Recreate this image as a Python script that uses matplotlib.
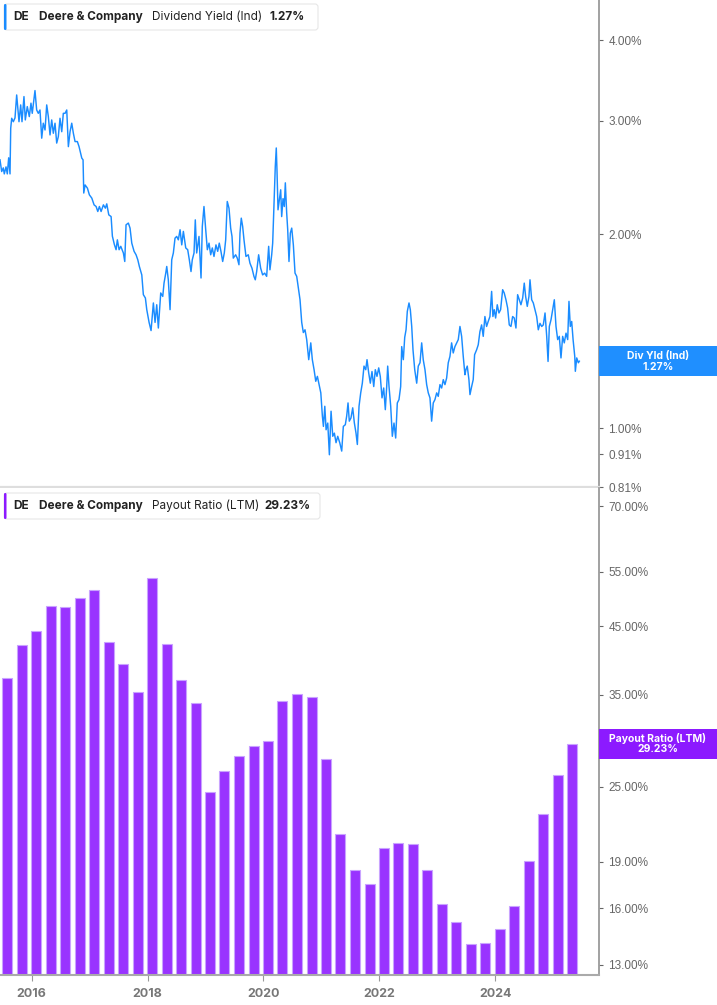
import numpy as np
import pandas as pd
import matplotlib
matplotlib.use("Agg")
import matplotlib.pyplot as plt
import matplotlib.dates as mdates
from matplotlib.patches import Rectangle, FancyBboxPatch
from matplotlib.transforms import IdentityTransform
from matplotlib.ticker import NullLocator
from datetime import datetime

# Dividend yield (Ind), % (decimal year, value)
yield_years = [
    2015.453, 2015.482, 2015.510, 2015.527, 2015.557, 2015.579, 2015.603, 2015.626, 2015.638, 2015.655,
    2015.683, 2015.712, 2015.741, 2015.758, 2015.781, 2015.810, 2015.833, 2015.867, 2015.890, 2015.924,
    2015.959, 2015.988, 2016.010, 2016.057, 2016.086, 2016.114, 2016.143, 2016.173, 2016.200, 2016.230,
    2016.259, 2016.287, 2016.316, 2016.345, 2016.373, 2016.402, 2016.431, 2016.459, 2016.488, 2016.518,
    2016.545, 2016.575, 2016.604, 2016.632, 2016.661, 2016.690, 2016.718, 2016.747, 2016.787, 2016.816,
    2016.863, 2016.885, 2016.897, 2016.920, 2016.960, 2016.994, 2017.036, 2017.075, 2017.110, 2017.139,
    2017.167, 2017.196, 2017.236, 2017.270, 2017.294, 2017.329, 2017.369, 2017.391, 2017.425, 2017.455,
    2017.477, 2017.507, 2017.536, 2017.581, 2017.605, 2017.627, 2017.667, 2017.696, 2017.726, 2017.766,
    2017.800, 2017.830, 2017.857, 2017.899, 2017.926, 2017.961, 2017.985, 2018.025, 2018.059, 2018.099,
    2018.128, 2018.157, 2018.185, 2018.226, 2018.261, 2018.283, 2018.313, 2018.330, 2018.357, 2018.387,
    2018.416, 2018.444, 2018.473, 2018.502, 2018.530, 2018.560, 2018.589, 2018.617, 2018.658, 2018.692,
    2018.720, 2018.749, 2018.771, 2018.801, 2018.823, 2018.847, 2018.887, 2018.922, 2018.944, 2018.973,
    2019.003, 2019.031, 2019.060, 2019.089, 2019.117, 2019.146, 2019.180, 2019.210, 2019.237, 2019.266,
    2019.296, 2019.324, 2019.348, 2019.375, 2019.405, 2019.434, 2019.457, 2019.479, 2019.520, 2019.548,
    2019.577, 2019.595, 2019.617, 2019.641, 2019.664, 2019.698, 2019.738, 2019.767, 2019.802, 2019.836,
    2019.859, 2019.883, 2019.917, 2019.952, 2019.986, 2020.021, 2020.055, 2020.090, 2020.112, 2020.142,
    2020.159, 2020.181, 2020.204, 2020.221, 2020.233, 2020.251, 2020.273, 2020.297, 2020.314, 2020.337,
    2020.359, 2020.377, 2020.400, 2020.418, 2020.440, 2020.463, 2020.487, 2020.515, 2020.544, 2020.573,
    2020.601, 2020.630, 2020.659, 2020.687, 2020.716, 2020.745, 2020.780, 2020.815, 2020.842, 2020.872,
    2020.901, 2020.929, 2020.958, 2020.988, 2021.015, 2021.033, 2021.057, 2021.079, 2021.108, 2021.136,
    2021.165, 2021.194, 2021.222, 2021.251, 2021.280, 2021.315, 2021.349, 2021.377, 2021.411, 2021.435,
    2021.458, 2021.480, 2021.509, 2021.539, 2021.567, 2021.596, 2021.619, 2021.648, 2021.677, 2021.705,
    2021.734, 2021.764, 2021.786, 2021.815, 2021.843, 2021.872, 2021.902, 2021.929, 2021.958, 2021.988,
    2022.015, 2022.045, 2022.074, 2022.102, 2022.126, 2022.143, 2022.166, 2022.195, 2022.223, 2022.252,
    2022.281, 2022.309, 2022.338, 2022.367, 2022.385, 2022.413, 2022.437, 2022.460, 2022.482, 2022.511,
    2022.534, 2022.558, 2022.580, 2022.610, 2022.644, 2022.671, 2022.701, 2022.730, 2022.757, 2022.787,
    2022.816, 2022.844, 2022.873, 2022.902, 2022.930, 2022.959, 2022.989, 2023.016, 2023.046, 2023.075,
    2023.103, 2023.132, 2023.161, 2023.189, 2023.218, 2023.247, 2023.275, 2023.304, 2023.334, 2023.362,
    2023.391, 2023.420, 2023.448, 2023.477, 2023.494, 2023.517, 2023.546, 2023.564, 2023.593, 2023.620,
    2023.644, 2023.679, 2023.707, 2023.736, 2023.765, 2023.793, 2023.822, 2023.851, 2023.879, 2023.909,
    2023.938, 2023.960, 2023.983, 2024.007, 2024.035, 2024.064, 2024.093, 2024.128, 2024.155, 2024.185,
    2024.214, 2024.242, 2024.271, 2024.300, 2024.328, 2024.357, 2024.386, 2024.414, 2024.443, 2024.473,
    2024.500, 2024.524, 2024.552, 2024.581, 2024.599, 2024.628, 2024.656, 2024.685, 2024.714, 2024.742,
    2024.771, 2024.801, 2024.828, 2024.858, 2024.887, 2024.910, 2024.932, 2024.961, 2024.990, 2025.018,
    2025.047, 2025.076, 2025.104, 2025.133, 2025.162, 2025.190, 2025.220, 2025.249, 2025.271, 2025.294,
    2025.318, 2025.342, 2025.371, 2025.381, 2025.405, 2025.433, 2025.450,
]
yield_vals = [
    2.609, 2.502, 2.535, 2.481, 2.544, 2.481, 2.628, 2.481, 2.921, 3.027,
    2.990, 3.031, 3.290, 3.156, 2.990, 3.175, 2.990, 3.271, 3.009, 3.156,
    3.045, 3.195, 3.081, 3.342, 3.118, 3.081, 3.118, 2.819, 2.974, 2.903,
    3.175, 3.045, 2.852, 3.009, 2.869, 2.974, 2.770, 2.835, 3.027, 2.885,
    3.081, 3.081, 3.118, 2.735, 2.885, 2.974, 2.869, 2.785, 2.785, 2.735,
    2.625, 2.609, 2.317, 2.385, 2.358, 2.302, 2.275, 2.221, 2.208, 2.169,
    2.208, 2.169, 2.221, 2.195, 2.229, 2.143, 2.130, 1.986, 1.928, 1.892,
    1.960, 1.892, 1.915, 1.870, 1.814, 2.068, 2.081, 2.044, 1.937, 1.881,
    1.858, 1.825, 1.782, 1.729, 1.611, 1.592, 1.527, 1.459, 1.417, 1.564,
    1.459, 1.554, 1.430, 1.621, 1.601, 1.679, 1.740, 1.782, 1.699, 1.527,
    1.825, 1.870, 1.972, 1.984, 1.960, 2.032, 1.925, 2.020, 1.904, 1.892,
    1.825, 1.750, 1.825, 1.870, 2.105, 1.870, 1.984, 1.710, 2.056, 2.208,
    2.032, 1.892, 1.937, 1.858, 1.904, 1.847, 1.925, 1.881, 1.937, 1.881,
    1.814, 1.870, 1.960, 2.248, 2.195, 2.044, 1.984, 1.836, 1.858, 1.836,
    1.793, 2.008, 2.118, 2.056, 1.960, 1.847, 1.858, 1.803, 1.771, 1.720,
    1.699, 1.750, 1.858, 1.771, 1.729, 1.740, 1.720, 1.915, 1.761, 1.858,
    1.937, 2.208, 2.548, 2.722, 2.517, 2.182, 2.261, 2.344, 2.130, 2.271,
    2.208, 2.403, 2.160, 2.032, 1.814, 2.008, 2.044, 1.925, 1.740, 1.720,
    1.650, 1.582, 1.459, 1.407, 1.421, 1.372, 1.277, 1.356, 1.277, 1.232,
    1.182, 1.203, 1.168, 1.134, 1.044, 1.006, 1.081, 0.994, 1.018, 0.909,
    1.062, 0.971, 0.982, 0.949, 0.971, 0.949, 0.921, 1.006, 1.012, 1.044,
    1.094, 1.025, 1.037, 1.075, 1.019, 0.982, 0.943, 1.081, 1.134, 1.174,
    1.248, 1.232, 1.277, 1.218, 1.174, 1.224, 1.160, 1.232, 1.203, 1.240,
    1.203, 1.114, 1.154, 1.068, 1.160, 1.248, 1.160, 1.081, 0.971, 1.018,
    0.965, 1.094, 1.107, 1.160, 1.338, 1.277, 1.383, 1.421, 1.518, 1.564,
    1.527, 1.438, 1.323, 1.232, 1.174, 1.248, 1.263, 1.356, 1.277, 1.232,
    1.168, 1.134, 1.114, 1.025, 1.094, 1.107, 1.134, 1.120, 1.168, 1.154,
    1.189, 1.168, 1.196, 1.263, 1.292, 1.356, 1.308, 1.338, 1.356, 1.372,
    1.438, 1.388, 1.292, 1.210, 1.232, 1.248, 1.189, 1.127, 1.160, 1.189,
    1.300, 1.323, 1.347, 1.412, 1.446, 1.388, 1.490, 1.438, 1.464, 1.490,
    1.630, 1.490, 1.527, 1.482, 1.554, 1.509, 1.527, 1.640, 1.621, 1.582,
    1.536, 1.446, 1.438, 1.490, 1.482, 1.430, 1.611, 1.582, 1.554, 1.592,
    1.679, 1.601, 1.545, 1.601, 1.699, 1.582, 1.564, 1.527, 1.490, 1.421,
    1.454, 1.438, 1.446, 1.509, 1.388, 1.269, 1.438, 1.473, 1.527, 1.582,
    1.438, 1.372, 1.388, 1.285, 1.388, 1.356, 1.404, 1.372, 1.573, 1.438,
    1.464, 1.372, 1.292, 1.225, 1.285, 1.263, 1.270,
]

# Payout ratio (LTM), %, one bar per fiscal quarter end (Jul 2015 .. Apr 2025)
quarter_ends = pd.date_range("2015-07-31", periods=40, freq="3ME")
payout_vals = [
    37.28, 42.07, 44.18, 48.53, 48.41, 49.92, 51.46, 42.49, 39.24, 35.38,
    53.83, 42.23, 37.01, 34.02, 24.49, 26.49, 27.94, 29.03, 29.52, 34.23,
    35.16, 34.74, 27.68, 20.98, 18.45, 17.47, 19.98, 20.32, 20.29, 18.43,
    16.23, 15.23, 14.02, 14.07, 14.81, 16.16, 19.02, 22.65, 26.13, 29.23,
]

yield_ticks = [4.0, 3.0, 2.0, 1.0, 0.91, 0.81]
payout_ticks = [70.0, 55.0, 45.0, 35.0, 25.0, 19.0, 16.0, 13.0]
year_ticks = [2016, 2018, 2020, 2022, 2024]

BLUE = "#1a8cff"
PURPLE = "#9933ff"
W, H = 717, 1005


def to_date(y):
    yr = int(y)
    a = datetime(yr, 1, 1)
    b = datetime(yr + 1, 1, 1)
    return a + (b - a) * (y - yr)


def box(x0, y0, x1, y1):
    # pixel box (top-left origin) -> figure fraction rect
    return [x0 / W, 1 - y1 / H, (x1 - x0) / W, (y1 - y0) / H]


fig = plt.figure(figsize=(W / 100, H / 100), dpi=100)
ax1 = fig.add_axes(box(0, 0, 598.5, 487))
ax2 = fig.add_axes(box(0, 488, 598.5, 975))

xmin, xmax = to_date(2015.453), to_date(2025.781)

# top: dividend yield line
ax1.plot([to_date(v) for v in yield_years], yield_vals, color=BLUE, lw=1.05)
ax1.set_yscale("log")
ax1.set_ylim(0.81, 4.62)
ax1.set_xlim(xmin, xmax)
ax1.set_yticks(yield_ticks)
ax1.set_yticklabels([f"{v:.2f}%" for v in yield_ticks])
ax1.set_xticks([])

# bottom: payout ratio bars
ax2.bar(quarter_ends, np.array(payout_vals) - 12, bottom=12, width=63,
        color=PURPLE, edgecolor="#c9a3ff", linewidth=0.8)
ax2.set_yscale("log")
ax2.set_ylim(12.53, 74.78)
ax2.set_xlim(xmin, xmax)
ax2.set_yticks(payout_ticks)
ax2.set_yticklabels([f"{v:.2f}%" for v in payout_ticks])
ax2.set_xticks([datetime(y, 1, 1) for y in year_ticks])
ax2.set_xticklabels([str(y) for y in year_ticks])
ax2.tick_params(axis="x", length=4, color="#999999", labelcolor="#777777",
                labelsize=9, pad=5)
for lab in ax2.get_xticklabels():
    lab.set_fontweight("bold")
    lab.set_fontfamily("Inter")

for ax in (ax1, ax2):
    ax.yaxis.tick_right()
    ax.yaxis.set_minor_locator(NullLocator())
    ax.tick_params(axis="y", direction="out", length=3, color="#666666",
                   labelcolor="#666666", labelsize=8.5, pad=4)
    for lab in ax.get_yticklabels():
        lab.set_fontfamily("Liberation Sans")
    ax.spines["top"].set_visible(False)
    ax.spines["left"].set_visible(False)
    ax.spines["right"].set_color("#9a9a9a")
    ax.spines["right"].set_linewidth(1.3)
    ax.set_facecolor("white")
ax1.spines["bottom"].set_color("#dedede")
ax1.spines["bottom"].set_linewidth(1.6)
ax2.spines["bottom"].set_color("#aaaaaa")
ax2.spines["bottom"].set_linewidth(1.5)

ident = IdentityTransform()


def value_tag(ax, val, line1, color):
    yd = ax.transData.transform((mdates.date2num(xmin), val))[1]
    fig.add_artist(Rectangle((598.5, yd - 15), 118.5, 30, transform=ident,
                             facecolor=color, edgecolor="none"))
    for dy, s in ((5.2, line1), (-5.3, f"{val:.2f}%")):
        fig.text(657.75, yd + dy, s, transform=ident, ha="center", va="center",
                 color="white", fontsize=7.5, fontweight="bold", family="Inter")


value_tag(ax1, yield_vals[-1], "Div Yld (Ind)", "#1f8fff")
value_tag(ax2, payout_vals[-1], "Payout Ratio (LTM)", "#8c1aff")


def header(ytop, metric, value, value_x, right, color):
    yb = H - ytop - 26
    fig.add_artist(FancyBboxPatch((4, yb), right - 4, 26, transform=ident,
                                  boxstyle="round,pad=0,rounding_size=3",
                                  facecolor="white", edgecolor="#e6e6e6", lw=0.8))
    fig.add_artist(FancyBboxPatch((4, yb), 2.5, 26, transform=ident,
                                  boxstyle="round,pad=0,rounding_size=1.2",
                                  facecolor=color, edgecolor="none"))
    yc = yb + 13
    kw = dict(transform=ident, va="center", ha="left", fontsize=8.5,
              family="Inter", color="#222222")
    fig.text(13, yc, "DE", fontweight="bold", **kw)
    fig.text(39, yc, "Deere & Company", fontweight="bold", **kw)
    fig.text(152, yc, metric, **kw)
    fig.text(value_x, yc, value, fontweight="bold", **kw)


header(4, "Dividend Yield (Ind)", "1.27%", 269, 318, BLUE)
header(493, "Payout Ratio (LTM)", "29.23%", 264, 320, "#8c1aff")

fig.savefig("out.png", dpi=100, facecolor="white")
